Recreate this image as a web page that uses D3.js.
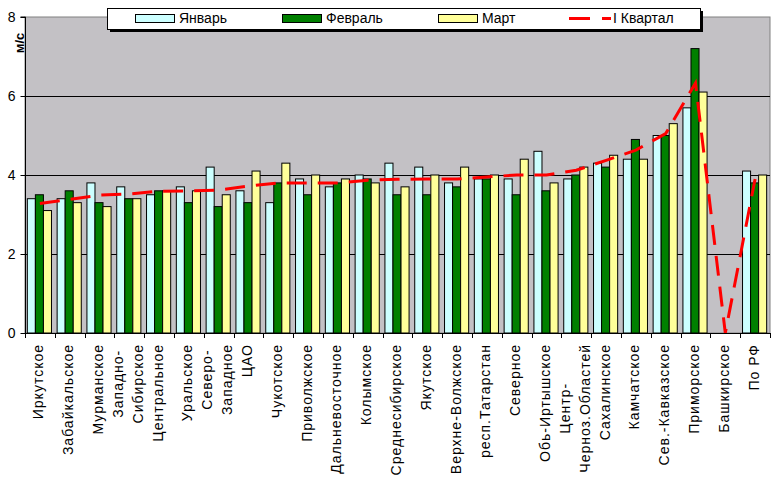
<!DOCTYPE html>
<html><head><meta charset="utf-8">
<script src="https://cdn.jsdelivr.net/npm/d3@7"></script>
<style>
body{margin:0;background:#fff;}
svg{display:block;font-family:Arial,"Liberation Sans",sans-serif;}
</style></head>
<body><svg id="chart" width="777" height="479"></svg>
<script>
// ---- data ----
const categories = ["Иркутское","Забайкальское","Мурманское","Западно-\nСибирское","Центральное","Уральское","Северо-\nЗападное","ЦАО","Чукотское","Приволжское","Дальневосточное","Колымское","Среднесибирское","Якутское","Верхне-Волжское","респ.Татарстан","Северное","Обь-Иртышское","Центр-\nЧерноз.Областей","Сахалинское","Камчатское","Сев.-Кавказское","Приморское","Башкирское","По РФ"];
const january  = [3.4,3.4,3.8,3.7,3.5,3.7,4.2,3.6,3.3,3.9,3.7,4.0,4.3,4.2,3.8,3.9,3.9,4.6,3.9,4.3,4.4,5.0,5.7,0,4.1];
const february = [3.5,3.6,3.3,3.4,3.6,3.3,3.2,3.3,3.8,3.5,3.8,3.9,3.5,3.5,3.7,3.9,3.5,3.6,4.0,4.2,4.9,5.0,7.2,0,3.8];
const march    = [3.1,3.3,3.2,3.4,3.6,3.6,3.5,4.1,4.3,4.0,3.9,3.8,3.7,4.0,4.2,4.0,4.4,3.8,4.2,4.5,4.4,5.3,6.1,0,4.0];
const quarter1 = [3.28,3.38,3.49,3.52,3.59,3.6,3.62,3.72,3.8,3.8,3.8,3.87,3.89,3.9,3.9,3.95,4.0,4.0,4.12,4.37,4.63,5.05,6.33,0,3.9];
const seriesNames = ["Январь","Февраль","Март"];
const lineName = "I Квартал";
const yTicks = [0,2,4,6,8];
const yTitle = "м/с";

// ---- styles ----
const colors = ["#ccffff","#008000","#ffff99"];
const lineColor = "#ff0000";
const plotBg = "#c3c1c5";

const svg = d3.select("#chart");
const L = 25, R = 770, T = 17, B = 333;

const x = d3.scaleBand().domain(categories.map((c,i)=>i)).range([L,R]);
const y = d3.scaleLinear().domain([0,8]).range([B,T]);
const bw = x.bandwidth()*0.27;
const sub = d3.scaleBand().domain([0,1,2]).range([0,bw*3]);

// plot background
svg.append("rect").attr("x",L).attr("y",T).attr("width",R-L).attr("height",B-T)
  .attr("fill",plotBg).attr("stroke","#808080").attr("stroke-width",1);

// gridlines
svg.append("g").selectAll("line").data(yTicks.filter(t=>t>0&&t<8)).join("line")
  .attr("x1",L).attr("x2",R).attr("y1",d=>Math.round(y(d))+0.5).attr("y2",d=>Math.round(y(d))+0.5)
  .attr("stroke","#000").attr("stroke-width",1);

// bars
const allSeries = [january,february,march];
allSeries.forEach((vals,si)=>{
  svg.append("g").selectAll("rect").data(vals).join("rect")
    .attr("x",(d,i)=>x(i)+x.bandwidth()/2-1.5*bw-0.5+sub(si))
    .attr("y",d=>y(d))
    .attr("width",bw)
    .attr("height",d=>B-y(d))
    .attr("fill",colors[si]).attr("stroke","#000").attr("stroke-width",1);
});

// quarter line
const line = d3.line().x((d,i)=>x(i)+x.bandwidth()/2).y(d=>y(d));
svg.append("path").datum(quarter1).attr("d",line)
  .attr("fill","none").attr("stroke",lineColor).attr("stroke-width",3)
  .attr("stroke-dasharray","20,11");

// y axis
const yAxis = d3.axisLeft(y).tickValues(yTicks).tickSize(5).tickPadding(5).tickFormat(d3.format("d"));
const gy = svg.append("g").attr("transform",`translate(${L+0.5},0)`).call(yAxis);
gy.select(".domain").attr("stroke","#000").attr("d",`M-5,${T}H0V${B}`);
gy.selectAll(".tick line").attr("stroke","#000");
gy.selectAll(".tick text").attr("font-size",14).attr("fill","#000").attr("font-family","Arial, 'Liberation Sans', sans-serif");

// x axis
const xAxis = d3.axisBottom(x).tickSize(0).tickFormat("");
const gx = svg.append("g").attr("transform",`translate(0,${B+0.5})`).call(xAxis);
gx.select(".domain").attr("stroke","#000").attr("d",`M${L},0H${R}`);
gx.selectAll(".tick").remove();
svg.append("g").selectAll("line").data(categories.map((c,i)=>i).concat([categories.length])).join("line")
  .attr("x1",d=>Math.round(d<categories.length?x(d):R)+0.5)
  .attr("x2",d=>Math.round(d<categories.length?x(d):R)+0.5)
  .attr("y1",B).attr("y2",B+5).attr("stroke","#000");

// category labels
const labTop = 344;
const labG = svg.append("g");
categories.forEach((c,i)=>{
  const lines = c.split("\n");
  const cx = x(i)+x.bandwidth()/2;
  const n = lines.length;
  const texts = lines.map((ln,k)=>{
    const off = (k-(n-1)/2)*20;
    return labG.append("text").text(ln)
      .attr("font-size",14).attr("letter-spacing","1px").attr("fill","#000");
  });
  const widths = texts.map(t=>t.node().getComputedTextLength());
  const maxW = d3.max(widths);
  texts.forEach((t,k)=>{
    const off = (k-(n-1)/2)*20;
    const bx = cx+off+3.5;
    const cyMid = labTop+maxW/2;
    t.attr("text-anchor","middle")
     .attr("transform",`translate(${bx},${cyMid}) rotate(-90)`);
  });
});

// y title
svg.append("text").text(yTitle).attr("font-size",13).attr("font-weight","bold")
  .attr("text-anchor","middle").attr("transform","translate(24,43) rotate(-90)");

// legend
const lg = svg.append("g");
lg.append("rect").attr("x",110).attr("y",11).attr("width",593).attr("height",21).attr("fill","#000");
lg.append("rect").attr("x",107.5).attr("y",8.5).attr("width",593).attr("height",21).attr("fill","#fff").attr("stroke","#000");
const swX = [135,282,438];
seriesNames.forEach((s,i)=>{
  lg.append("rect").attr("x",swX[i]+0.5).attr("y",14.5).attr("width",39).attr("height",8)
    .attr("fill",colors[i]).attr("stroke","#000");
  lg.append("text").text(s).attr("x",swX[i]+44).attr("y",23).attr("font-size",14).attr("fill","#000");
});
lg.append("line").attr("x1",569).attr("x2",611).attr("y1",18.5).attr("y2",18.5)
  .attr("stroke",lineColor).attr("stroke-width",3).attr("stroke-dasharray","21,12");
lg.append("text").text(lineName).attr("x",613).attr("y",23).attr("font-size",14).attr("fill","#000");
</script>
</body></html>
